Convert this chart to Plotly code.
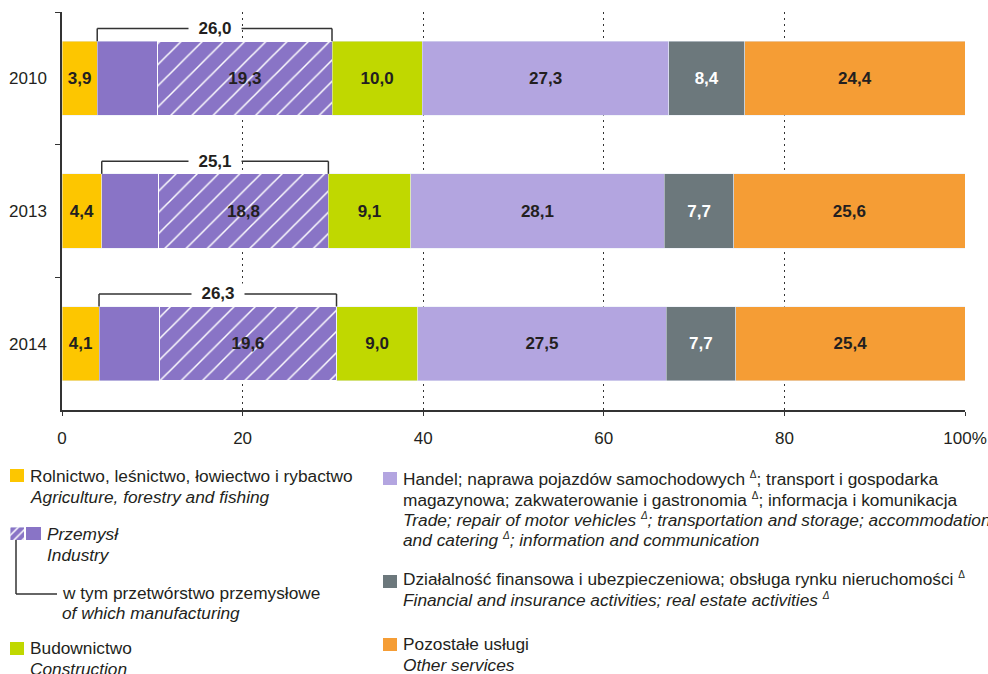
import plotly.graph_objects as go

# ---------------- data ----------------
years = ["2010", "2013", "2014"]
agriculture = [3.9, 4.4, 4.1]
industry_total = [26.0, 25.1, 26.3]
manufacturing = [19.3, 18.8, 19.6]
construction = [10.0, 9.1, 9.0]
trade = [27.3, 28.1, 27.5]
finance = [8.4, 7.7, 7.7]
other_services = [24.4, 25.6, 25.4]
x_ticks = [0, 20, 40, 60, 80, 100]
x_ticktext = ["0", "20", "40", "60", "80", "100%"]

industry_other = [round(t - m, 1) for t, m in zip(industry_total, manufacturing)]

# ---------------- styles ----------------
W, H = 988, 674
FONT = "Liberation Sans, Arial, sans-serif"
TXT = "#231f20"
C_AGRI = "#FDC600"
C_IND = "#8974C6"
C_CONS = "#C0D800"
C_TRADE = "#B3A5E0"
C_FIN = "#6C787C"
C_OTH = "#F59D35"
FS = 17
LS = 17.3


def fmt(v):
    return f"{v:.1f}".replace(".", ",")


def px(x):
    return x / W


def py(y):
    return 1 - y / H


X0, X1 = 62, 965
Y0, Y1 = 12, 410

fig = go.Figure()


def add_bar(vals, color, textcolor=TXT, show_text=True, pattern=None, line=None):
    marker = dict(color=color)
    if pattern:
        marker["pattern"] = pattern
    if line:
        marker["line"] = line
    fig.add_trace(go.Bar(
        y=years, x=vals, orientation="h", marker=marker,
        text=[f"<b>{fmt(v)}</b>" for v in vals] if show_text else None,
        textposition="inside" if show_text else "none",
        insidetextanchor="middle", textangle=0, constraintext="none",
        textfont=dict(family=FONT, size=FS, color=textcolor),
        hoverinfo="skip", showlegend=False,
    ))


add_bar(agriculture, C_AGRI)
add_bar(industry_other, C_IND, show_text=False)
add_bar(manufacturing, C_IND,
        pattern=dict(shape="/", fgcolor="white", bgcolor=C_IND, size=15,
                     solidity=0.1, fillmode="replace"),
        line=dict(color="white", width=1))
add_bar(construction, C_CONS)
add_bar(trade, C_TRADE)
add_bar(finance, C_FIN, textcolor="white")
add_bar(other_services, C_OTH)

# legend hatched swatch on mini axes
fig.add_trace(go.Bar(
    x=[1], y=[0], orientation="h", xaxis="x2", yaxis="y2", width=1,
    marker=dict(color=C_IND, pattern=dict(shape="/", fgcolor="white", bgcolor=C_IND,
                                          size=6, solidity=0.25, fillmode="replace")),
    hoverinfo="skip", showlegend=False,
))

shapes = []
annotations = []

# brackets over industry
for i, yr in enumerate(years):
    xa = agriculture[i]
    xb = agriculture[i] + industry_total[i]
    ytop = i - 0.375
    ybar = i - 0.28
    lc = dict(color="#333333", width=1.5)
    shapes.append(dict(type="line", xref="x", yref="y", x0=xa, x1=xa, y0=ybar, y1=ytop, line=lc))
    shapes.append(dict(type="line", xref="x", yref="y", x0=xa, x1=xb, y0=ytop, y1=ytop, line=lc))
    shapes.append(dict(type="line", xref="x", yref="y", x0=xb, x1=xb, y0=ytop, y1=ybar, line=lc))
    annotations.append(dict(
        x=(xa + xb) / 2, y=ytop, xref="x", yref="y", showarrow=False,
        text=f"&nbsp;&nbsp;<b>{fmt(industry_total[i])}</b>&nbsp;&nbsp;",
        bgcolor="white", borderpad=0,
        font=dict(family=FONT, size=FS, color=TXT), xanchor="center", yanchor="middle",
    ))


def rect(x0, y0, x1, y1, color):
    shapes.append(dict(type="rect", xref="paper", yref="paper",
                       x0=px(x0), x1=px(x1), y0=py(y1), y1=py(y0),
                       fillcolor=color, line=dict(width=0)))


def label(x, y, text, size=LS):
    annotations.append(dict(x=px(x), y=py(y), xref="paper", yref="paper",
                            text=text, showarrow=False, xanchor="left", yanchor="middle",
                            font=dict(family=FONT, size=size, color=TXT)))


# left legend column
rect(10, 469, 24, 482, C_AGRI)
label(28, 476, "Rolnictwo, leśnictwo, łowiectwo i rybactwo")
label(28, 497, "<i>Agriculture, forestry and fishing</i>")

rect(26, 527, 41, 540, C_IND)
label(45, 534, "<i>Przemysł</i>")
label(45, 555, "<i>Industry</i>")
shapes.append(dict(type="line", xref="paper", yref="paper", x0=px(16), x1=px(16),
                   y0=py(540), y1=py(594), line=dict(color="#333333", width=1.5)))
shapes.append(dict(type="line", xref="paper", yref="paper", x0=px(16), x1=px(57),
                   y0=py(594), y1=py(594), line=dict(color="#333333", width=1.5)))
label(60, 593, "w tym przetwórstwo przemysłowe")
label(60, 613, "<i>of which manufacturing</i>")

rect(10, 642, 24, 655, C_CONS)
label(28, 648, "Budownictwo")
label(28, 669, "<i>Construction</i>")

# right legend column
D = "<sup><span style='font-size:10px'>Δ</span></sup>"
rect(383, 472, 397, 485, C_TRADE)
label(401, 479, f"Handel; naprawa pojazdów samochodowych {D}; transport i gospodarka")
label(401, 500, f"magazynowa; zakwaterowanie i gastronomia {D}; informacja i komunikacja")
label(401, 520, f"<i>Trade; repair of motor vehicles {D}; transportation and storage; accommodation</i>")
label(401, 540, f"<i>and catering {D}; information and communication</i>")

rect(383, 575, 397, 588, C_FIN)
label(401, 579, f"Działalność finansowa i ubezpieczeniowa; obsługa rynku nieruchomości {D}")
label(401, 600, f"<i>Financial and insurance activities; real estate activities {D}</i>")

rect(383, 638, 397, 651, C_OTH)
label(401, 644, "Pozostałe usługi")
label(401, 665, "<i>Other services</i>")

fig.update_layout(
    width=W, height=H,
    margin=dict(l=0, r=0, t=0, b=0),
    paper_bgcolor="white", plot_bgcolor="white",
    barmode="stack", bargap=0.44,
    font=dict(family=FONT, size=FS, color=TXT),
    showlegend=False,
    xaxis=dict(
        domain=[px(X0), px(X1)], range=[0, 100], automargin=False,
        tickvals=x_ticks, ticktext=x_ticktext,
        showline=True, linecolor="#333333", linewidth=1.5,
        ticks="outside", ticklen=4, tickcolor="#333333", tickwidth=1,
        showgrid=True, gridcolor="#333333", gridwidth=1, griddash="2px,4px",
        zeroline=False, ticklabelstandoff=8,
        tickfont=dict(family=FONT, size=FS, color=TXT),
        anchor="y", fixedrange=True,
    ),
    yaxis=dict(
        domain=[py(Y1), py(Y0)], type="category", categoryarray=years,
        range=[2.5, -0.5], automargin=False,
        showline=True, linecolor="#333333", linewidth=1.5,
        ticks="outside", tickson="boundaries", ticklen=5, tickcolor="#333333",
        showgrid=False, zeroline=False, ticklabelstandoff=10,
        tickfont=dict(family=FONT, size=FS, color=TXT),
        anchor="x", fixedrange=True,
    ),
    xaxis2=dict(domain=[px(10), px(24)], range=[0, 1], visible=False, anchor="y2",
                fixedrange=True),
    yaxis2=dict(domain=[py(540), py(527)], range=[-0.5, 0.5], visible=False, anchor="x2",
                fixedrange=True),
    shapes=shapes,
    annotations=annotations,
)

fig.write_html("out.html")
